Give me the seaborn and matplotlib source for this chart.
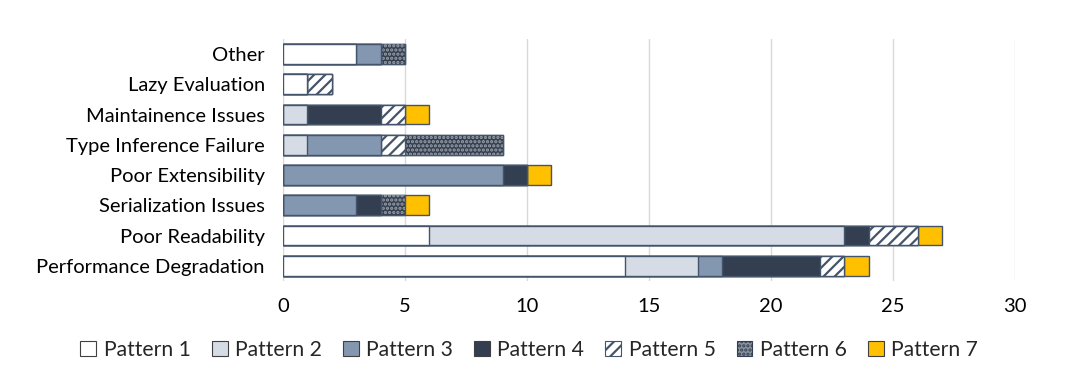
import numpy as np
import pandas as pd
import matplotlib
matplotlib.use("Agg")
import matplotlib.pyplot as plt
import seaborn as sns
from matplotlib.patches import Patch

#--------------------DATA-----------------------

categories = ["Other", "Lazy Evaluation", "Maintainence Issues", "Type Inference Failure",
              "Poor Extensibility", "Serialization Issues", "Poor Readability",
              "Performance Degradation"]

pattern_1 = [3, 1, 0, 0, 0, 0, 6, 14]
pattern_2 = [0, 0, 1, 1, 0, 0, 17, 3]
pattern_3 = [1, 0, 0, 3, 9, 3, 0, 1]
pattern_4 = [0, 0, 3, 0, 1, 1, 1, 4]
pattern_5 = [0, 1, 1, 1, 0, 0, 2, 1]
pattern_6 = [1, 0, 0, 4, 0, 1, 0, 0]
pattern_7 = [0, 0, 1, 0, 1, 1, 1, 1]

labels = ["Pattern 1", "Pattern 2", "Pattern 3", "Pattern 4", "Pattern 5", "Pattern 6", "Pattern 7"]

#--------------------STYLE----------------------

sns.set_style("white")
plt.rcParams['font.family'] = ['Lato', 'DejaVu Sans']
plt.rcParams['hatch.linewidth'] = 1.6

faces = ["white", "#D6DCE5", "#8497B0", "#333F50", "white", "#333F50", "#FFC000"]
hatches = [None, None, None, None, "///", "....", None]
edge = "#44546A"

df = pd.DataFrame({"category": categories})
series = [pattern_1, pattern_2, pattern_3, pattern_4, pattern_5, pattern_6, pattern_7]
cum = np.cumsum(np.array(series), axis=0)

fig = plt.figure(figsize=(10.8, 3.74), dpi=100)
ax = fig.add_axes([0.262, 0.249, 0.678, 0.647])

# Draw cumulative layers from the outermost inward so each segment shows
for i in range(6, -1, -1):
    df["value"] = cum[i]
    if i == 4:
        sns.barplot(data=df, x="value", y="category", orient="h", ax=ax,
                    color="white", edgecolor=edge, hatch="///", linewidth=1.0,
                    width=0.66, saturation=1)
    elif i == 5:
        sns.barplot(data=df, x="value", y="category", orient="h", ax=ax,
                    color="#333F50", edgecolor=edge, linewidth=1.0,
                    width=0.66, saturation=1)
        sns.barplot(data=df, x="value", y="category", orient="h", ax=ax,
                    fill=False, edgecolor=(1, 1, 1, 0.5), hatch="....", linewidth=0,
                    width=0.66, saturation=1)
    else:
        sns.barplot(data=df, x="value", y="category", orient="h", ax=ax,
                    color=faces[i], edgecolor=edge, linewidth=1.0,
                    width=0.66, saturation=1)

ax.set_xlim(0, 30)
ax.set_ylim(7.5, -0.5)
ax.set_xticks(range(0, 31, 5))
ax.xaxis.grid(True, color="#D9D9D9", linewidth=1)
ax.set_axisbelow(True)
for s in ax.spines.values():
    s.set_visible(False)
ax.set_xlabel("")
ax.set_ylabel("")
ax.tick_params(axis="both", length=0, labelsize=14.5, colors="black")
ax.tick_params(axis="x", pad=12)
ax.tick_params(axis="y", pad=13)

# Legend
handles = []
for f, h in zip(faces, hatches):
    if h == "....":
        handles.append(Patch(facecolor="#8a93a0", edgecolor="#333F50", hatch="....", linewidth=0.8))
    else:
        handles.append(Patch(facecolor=f, edgecolor=edge if h else "#404040", hatch=h, linewidth=0.8))
fig.legend(handles, labels, loc="center", bbox_to_anchor=(0.49, 0.065), ncol=7,
           frameon=False, fontsize=15.2, handlelength=0.75, handleheight=0.75,
           handletextpad=0.35, columnspacing=1.0)

fig.savefig("out.png", dpi=100)
